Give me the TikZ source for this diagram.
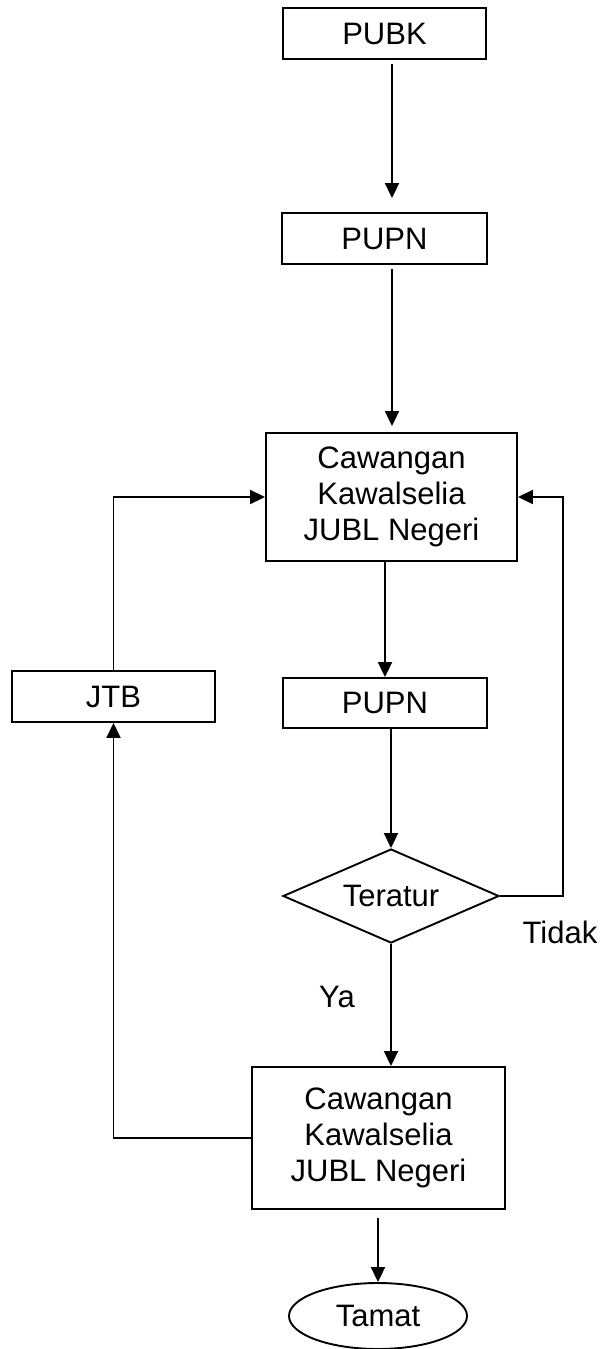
\documentclass[tikz,border=0pt]{standalone}
\usepackage{fontspec}
\setmainfont{Liberation Sans}
\usetikzlibrary{arrows.meta,shapes.geometric}
\tikzset{
  Box/.style={
    draw, line width=1.9pt, inner sep=0pt,
    font=\fontsize{31}{36}\selectfont, align=center
  },
  Flow/.style={
    line width=1.9pt,
    -{Triangle[length=15pt,width=14pt]}
  },
  Lbl/.style={font=\fontsize{31}{36}\selectfont, inner sep=0pt}
}

\begin{document}
\begin{tikzpicture}[x=1pt, y=-1pt, line cap=butt, line join=miter]
  \useasboundingbox (0,0) rectangle (601,1349);
  % main column
  \node[Box, minimum width=203pt, minimum height=51pt] (pubk) at (384.5,33.5) {PUBK};
  \node[Box, minimum width=205pt, minimum height=51pt] (pupnA) at (384.5,238.5) {PUPN};
  \node[Box, minimum width=251pt, minimum height=128pt] (cawA) at (391.5,497) {Cawangan\\Kawalselia\\JUBL Negeri};
  \node[Box, minimum width=204pt, minimum height=50pt] (pupnB) at (385,703) {PUPN};
  \node[Box, diamond, aspect=2.3, minimum width=216pt, minimum height=94pt] (diam) at (391,896) {Teratur};
  \node[Box, minimum width=253pt, minimum height=142pt] (cawB) at (378.5,1138) {Cawangan\\Kawalselia\\JUBL Negeri};
  \node[Box, ellipse, minimum width=178pt, minimum height=66pt] (tamat) at (378,1316) {Tamat};
  % side box
  \node[Box, minimum width=203pt, minimum height=51pt] (jtb) at (113.5,696.5) {JTB};

  \draw[Flow, shorten <=4pt, shorten >=14pt] ([xshift=7.5pt]pubk.south) -- ([xshift=7.5pt]pupnA.north);
  \draw[Flow, shorten <=4pt, shorten >=6pt] ([xshift=7.5pt]pupnA.south) -- ([xshift=0.5pt]cawA.north);
  \draw[Flow] (cawA.south -| pupnB.north) -- (pupnB.north);
  \draw[Flow] (pupnB.south -| diam.north) -- (diam.north);
  \draw[Flow] (diam.south) -- (diam.south |- cawB.north);
  \draw[Flow, shorten <=8pt] (cawB.south -| tamat.north) -- (tamat.north);

  % feedback loops
  \coordinate (back) at (563,896);
  \draw[Flow] (diam.east) -- (back) |- (cawA.east);
  \draw[Flow] (cawB.west) -| (jtb.south);
  \draw[Flow] (jtb.north) |- (cawA.west);

  \node[Lbl] (tidak) at (560,932) {Tidak};
  \node[Lbl] (ya) at (337,997) {Ya};
\end{tikzpicture}
\end{document}
